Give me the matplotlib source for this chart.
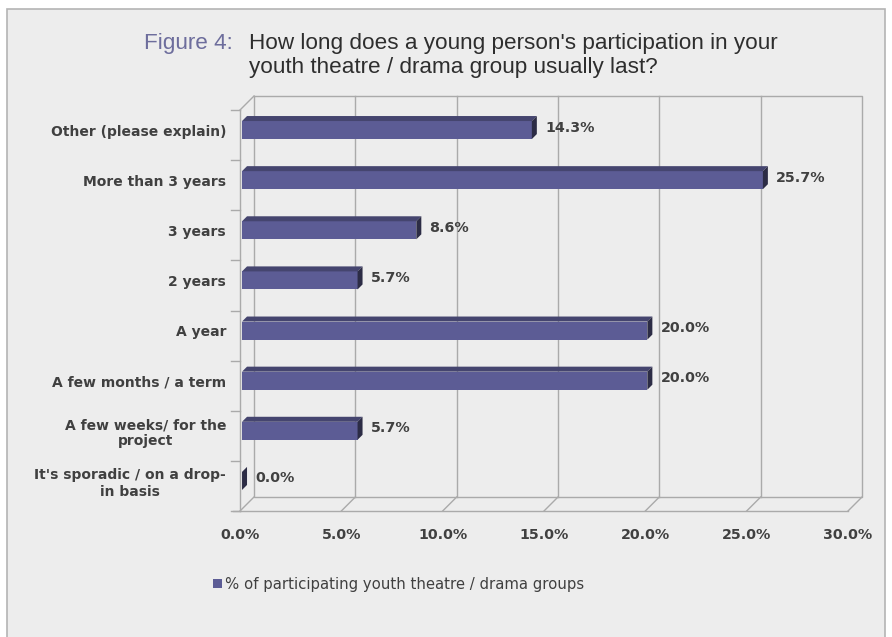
import numpy as np
import matplotlib.pyplot as plt
from matplotlib.patches import Rectangle, Polygon

categories = [
    "Other (please explain)",
    "More than 3 years",
    "3 years",
    "2 years",
    "A year",
    "A few months / a term",
    "A few weeks/ for the\nproject",
    "It's sporadic / on a drop-\nin basis",
]
values = [14.3, 25.7, 8.6, 5.7, 20.0, 20.0, 5.7, 0.0]
xticks = [0, 5, 10, 15, 20, 25, 30]
xticklabels = ["0.0%", "5.0%", "10.0%", "15.0%", "20.0%", "25.0%", "30.0%"]
series_name = "% of participating youth theatre / drama groups"

W, H = 892, 637
panel_bg = "#ededed"
grid_c = "#aaaaaa"
text_c = "#404040"
face_c = "#5c5c95"
top_c = "#45456f"
side_c = "#2c2c45"

fig = plt.figure(figsize=(W / 100, H / 100), dpi=100)
fig.patch.set_facecolor("white")

# grey panel behind everything
bg = fig.add_axes([0, 0, 1, 1], zorder=-5)
bg.set_xlim(0, W)
bg.set_ylim(H, 0)
bg.axis("off")
bg.add_patch(Rectangle((7, 9), 878, H, facecolor=panel_bg,
                       edgecolor="#b4b4b4", lw=1.2))

# plot box: front plane from x=240..848 px, y=511..110 px, plus 3d depth
ax = fig.add_axes([240 / W, (H - 511) / H, 622 / W, 415 / H])
ax.set_facecolor("none")
n = len(categories)
xmax = 30
dx = 14 / (608 / xmax)      # depth offset in data units
dy = 14 / (401 / n)
ax.set_xlim(0, xmax + dx)
ax.set_ylim(-0.5, n - 0.5 + dy)

y0, y1 = -0.5, n - 0.5
lk = dict(color=grid_c, lw=1, zorder=1, clip_on=False)
# back wall
ax.plot([dx, xmax + dx, xmax + dx, dx, dx],
        [y1 + dy, y1 + dy, y0 + dy, y0 + dy, y1 + dy], **lk)
for t in xticks[1:-1]:
    ax.plot([t + dx, t + dx], [y0 + dy, y1 + dy], **lk)
# floor lines
for t in xticks:
    ax.plot([t + dx, t], [y0 + dy, y0], **lk)
ax.plot([-0.35, xmax], [y0, y0], **lk)
# left wall
ax.plot([0, 0], [y0, y1], **lk)
ax.plot([0, dx], [y1, y1 + dy], **lk)
for b in np.arange(y0, y1 + 0.01, 1.0):
    ax.plot([-0.45, 0], [b, b], **lk)

for s in ax.spines.values():
    s.set_visible(False)

# bars
ypos = np.arange(n)[::-1]
bh = 0.36
lift = 0.1
bx = 0.1
ddx = 5 / (608 / xmax)
ddy = 5 / (401 / n)
yc = ypos + lift
ax.barh(yc, values, height=bh, left=bx, color=face_c, zorder=3,
        label=series_name)
for y, v in zip(yc, values):
    top = y + bh / 2
    bot = y - bh / 2
    ax.add_patch(Polygon([(bx, top), (bx + v, top), (bx + v + ddx, top + ddy),
                          (bx + ddx, top + ddy)], closed=True,
                         facecolor=top_c, edgecolor="none", zorder=3))
    ax.add_patch(Polygon([(bx + v, bot), (bx + v, top), (bx + v + ddx, top + ddy),
                          (bx + v + ddx, bot + ddy)], closed=True,
                         facecolor=side_c, edgecolor="none", zorder=4))
    ax.text(bx + v + ddx + 0.4, y + 0.05, f"{v:.1f}%", ha="left",
            va="center", fontsize=10.3, fontweight="bold", color=text_c,
            zorder=5)

ax.set_yticks(yc)
ax.set_yticklabels(categories, fontsize=10, fontweight="bold", color=text_c)
for lbl in ax.get_yticklabels():
    lbl.set_multialignment("center")
ax.tick_params(axis="y", length=0, pad=10)
ax.set_xticks(xticks)
ax.set_xticklabels(xticklabels, fontsize=10.3, fontweight="bold", color=text_c)
ax.tick_params(axis="x", length=0, pad=12)

leg = ax.legend(loc="center left", bbox_to_anchor=(206 / W, 1 - 584 / H),
                bbox_transform=fig.transFigure, frameon=False, fontsize=10.7,
                handlelength=0.55, handleheight=0.55, handletextpad=0.2,
                borderpad=0, labelcolor=text_c)

fig.text(233 / W, 1 - 44 / H, "Figure 4:", ha="right", va="center",
         fontsize=16.2, color="#6d6d9c", family="Liberation Sans")
fig.text(249 / W, 1 - 44 / H,
         "How long does a young person's participation in your",
         ha="left", va="center", fontsize=16.2, color="#2e2e2e",
         family="Liberation Sans")
fig.text(249 / W, 1 - 68 / H, "youth theatre / drama group usually last?",
         ha="left", va="center", fontsize=16.2, color="#2e2e2e",
         family="Liberation Sans")

fig.savefig("out.png", dpi=100)
